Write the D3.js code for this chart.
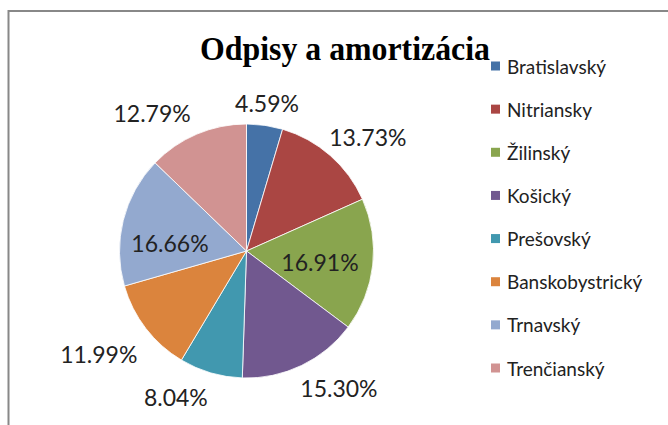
<!DOCTYPE html>
<meta charset="utf-8">
<head>
<style>
body { margin: 0; background: #fff; }
.slices path { stroke: #fff; stroke-width: 1px; stroke-opacity: 0.8; }
.labels text { font-family: Lato, "Open Sans", sans-serif; fill: #222; }
.legend text { font-family: Lato, "Open Sans", sans-serif; fill: #222; }
</style>
</head>
<body>
<svg></svg>
<script src="https://d3js.org/d3.v7.min.js"></script>
<script>
// data
var regions = ["Bratislavský", "Nitriansky", "Žilinský", "Košický", "Prešovský", "Banskobystrický", "Trnavský", "Trenčianský"];
var shares = [4.59, 13.73, 16.91, 15.30, 8.04, 11.99, 16.66, 12.79];
var colors = ["#4572A7", "#AA4643", "#89A54E", "#71588F", "#4198AF", "#DB843D", "#93A9CF", "#D19392"];

// label placement (best-fit like): radius factor and angle shift in degrees
var labelRadius = [1.18, 1.31, 0.585, 1.30, 1.28, 1.42, 0.606, 1.315];
var labelShift = [-0.4, 5.6, 2.1, -8.4, 9.4, 2.6, -8, -11.4];

var width = 668, height = 425;
var cx = 246.5, cy = 251, r = 127;

var svg = d3.select('svg')
  .attr('width', width)
  .attr('height', height);

// chart border
svg.append('rect')
  .attr('x', 8.5).attr('y', 11)
  .attr('width', width + 20).attr('height', height + 20)
  .attr('fill', 'none')
  .attr('stroke', '#888')
  .attr('stroke-width', 2);

svg.append('text')
  .attr('x', 345).attr('y', 60)
  .attr('text-anchor', 'middle')
  .attr('textLength', 290)
  .attr('lengthAdjust', 'spacingAndGlyphs')
  .style('font-family', '"Liberation Serif", "Times New Roman", serif')
  .style('font-weight', 'bold')
  .style('font-size', '34px')
  .text('Odpisy a amortizácia');

var pie = d3.pie().sort(null).value(function (d) { return d; });
var arcs = pie(shares);
var arc = d3.arc().innerRadius(0).outerRadius(r);

var g = svg.append('g').attr('transform', 'translate(' + cx + ',' + cy + ')');

g.append('g').attr('class', 'slices')
  .selectAll('path')
  .data(arcs)
  .enter().append('path')
  .attr('d', arc)
  .attr('fill', function (d, i) { return colors[i]; });

g.append('g').attr('class', 'labels')
  .selectAll('text')
  .data(arcs)
  .enter().append('text')
  .attr('x', function (d, i) {
    var a = (d.startAngle + d.endAngle) / 2 + labelShift[i] * Math.PI / 180;
    return Math.sin(a) * r * labelRadius[i];
  })
  .attr('y', function (d, i) {
    var a = (d.startAngle + d.endAngle) / 2 + labelShift[i] * Math.PI / 180;
    return -Math.cos(a) * r * labelRadius[i];
  })
  .attr('text-anchor', 'middle')
  .attr('dominant-baseline', 'central')
  .style('font-size', '23px')
  .text(function (d) { return d.data.toFixed(2) + '%'; });

// legend
var legendY = d3.scalePoint().domain(regions).range([66, 368]);

var legend = svg.append('g').attr('class', 'legend')
  .selectAll('g')
  .data(regions)
  .enter().append('g')
  .attr('transform', function (d) { return 'translate(491,' + legendY(d) + ')'; });

legend.append('rect')
  .attr('x', 0).attr('y', -4.5)
  .attr('width', 9).attr('height', 9)
  .attr('fill', function (d, i) { return colors[i]; });

legend.append('text')
  .attr('x', 16)
  .attr('dominant-baseline', 'central')
  .style('font-size', '19px')
  .text(function (d) { return d; });
</script>
</body>
</html>
